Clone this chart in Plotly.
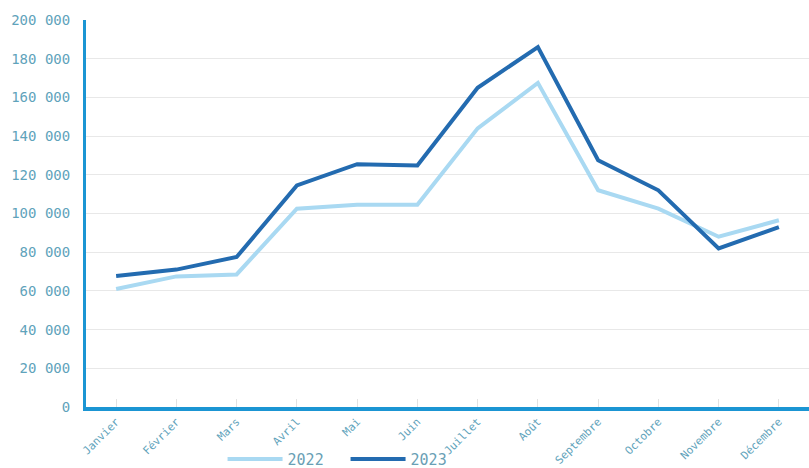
import plotly.graph_objects as go

months = ["Janvier", "Février", "Mars", "Avril", "Mai", "Juin", "Juillet",
          "Août", "Septembre", "Octobre", "Novembre", "Décembre"]
values_2022 = [61000, 67500, 68500, 102500, 104500, 104500, 144000,
               167500, 112000, 102500, 88000, 96500]
values_2023 = [67700, 71000, 77500, 114500, 125500, 124800, 165000,
               186000, 127500, 112000, 82000, 93000]
y_ticks = [0, 20000, 40000, 60000, 80000, 100000, 120000, 140000, 160000, 180000, 200000]
y_tick_labels = ["0", "20 000", "40 000", "60 000", "80 000", "100 000", "120 000",
                 "140 000", "160 000", "180 000", "200 000"]

fig = go.Figure()
fig.add_trace(go.Scatter(x=months, y=values_2022, mode="lines", name="2022",
                         line=dict(color="#a9d9f2", width=4)))
fig.add_trace(go.Scatter(x=months, y=values_2023, mode="lines", name="2023",
                         line=dict(color="#236bb0", width=4)))

font_fam = "DejaVu Sans Mono"
fig.update_layout(
    width=809, height=468,
    margin=dict(l=86, r=0, t=20, b=61, autoexpand=False),
    paper_bgcolor="white", plot_bgcolor="white",
    font=dict(family=font_fam, color="#5fa3bb", size=13),
    showlegend=True,
    legend=dict(orientation="h", x=0.359, xanchor="center", y=-0.135, yanchor="middle",
                font=dict(size=15, color="#6a9fb5", family=font_fam),
                itemwidth=55, entrywidth=53, bgcolor="rgba(0,0,0,0)"),
    xaxis=dict(range=[-0.5, 11.5], showgrid=False, showline=True, automargin=False,
               linecolor="#1b95d3", linewidth=4, tickangle=-45,
               ticks="inside", ticklen=8, tickcolor="#e2e2e2", tickwidth=1,
               tickfont=dict(size=11, color="#5fa3bb", family=font_fam)),
    yaxis=dict(range=[0, 200000], tickvals=y_ticks, ticktext=y_tick_labels,
               showgrid=True, gridcolor="#e8e8e8", gridwidth=1, automargin=False,
               showline=True, linecolor="#1b95d3", linewidth=3,
               zeroline=False, ticks="", ticklabelstandoff=10,
               tickfont=dict(size=14, color="#5fa3bb", family=font_fam)),
)

fig.write_html("out.html", config={"displayModeBar": False},
               post_script="document.body.style.margin='0';document.body.style.overflow='hidden';")
